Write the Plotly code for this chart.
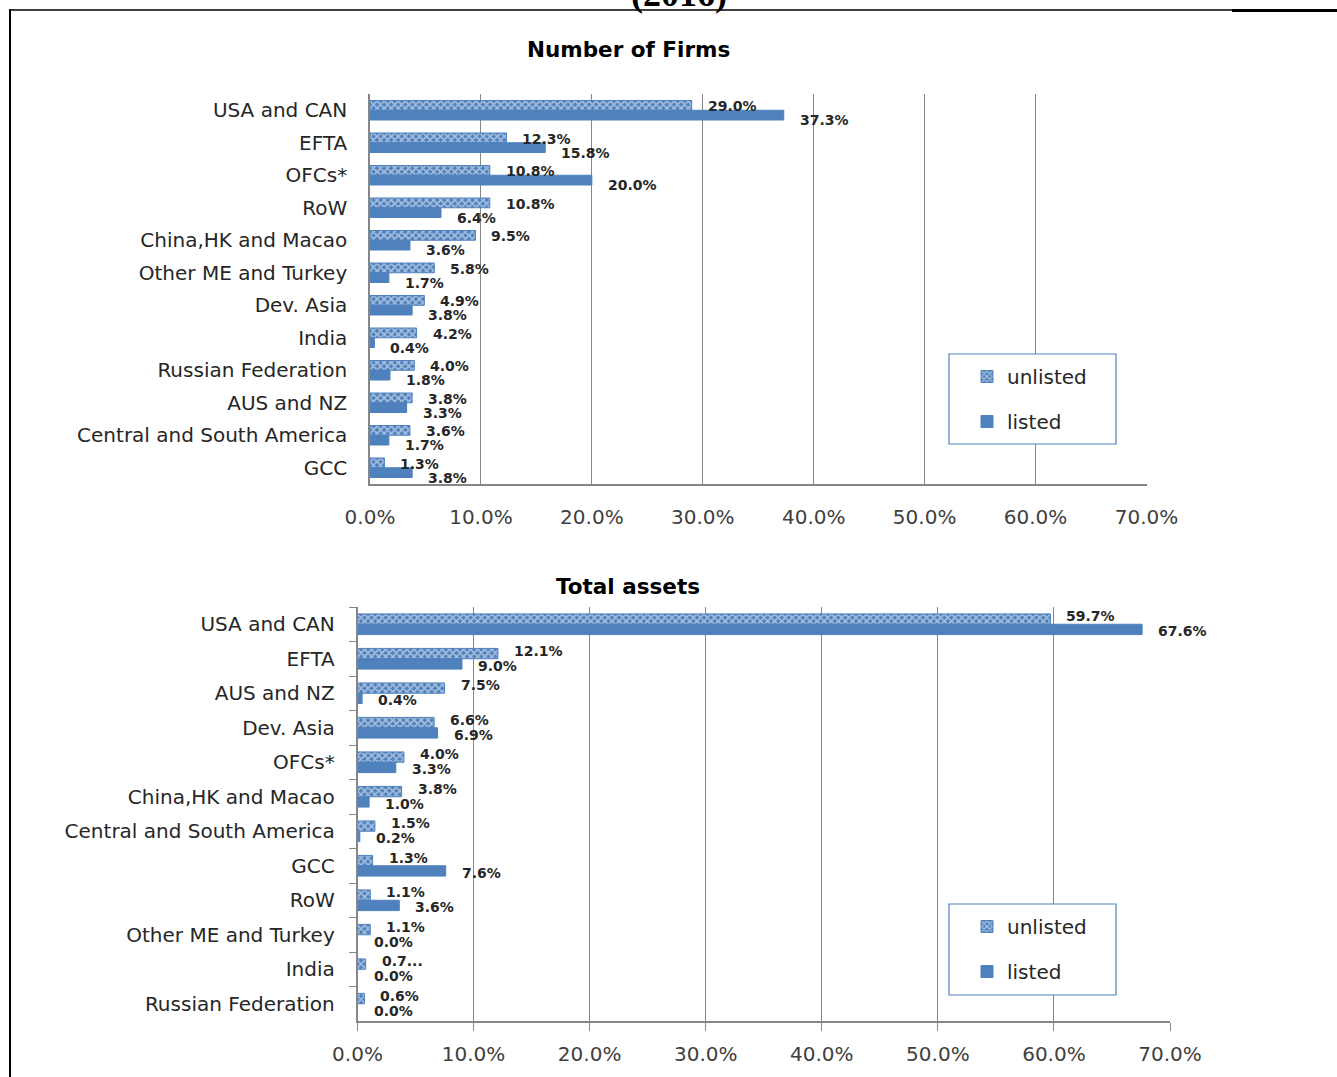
import plotly.graph_objects as go

# ---- data -------------------------------------------------------------
firm_regions = ["USA and CAN", "EFTA", "OFCs*", "RoW", "China,HK and Macao",
                "Other ME and Turkey", "Dev. Asia", "India", "Russian Federation",
                "AUS and NZ", "Central and South America", "GCC"]
firms_unlisted = [29.0, 12.3, 10.8, 10.8, 9.5, 5.8, 4.9, 4.2, 4.0, 3.8, 3.6, 1.3]
firms_listed = [37.3, 15.8, 20.0, 6.4, 3.6, 1.7, 3.8, 0.4, 1.8, 3.3, 1.7, 3.8]

asset_regions = ["USA and CAN", "EFTA", "AUS and NZ", "Dev. Asia", "OFCs*",
                 "China,HK and Macao", "Central and South America", "GCC", "RoW",
                 "Other ME and Turkey", "India", "Russian Federation"]
assets_unlisted = [59.7, 12.1, 7.5, 6.6, 4.0, 3.8, 1.5, 1.3, 1.1, 1.1, 0.7, 0.6]
assets_listed = [67.6, 9.0, 0.4, 6.9, 3.3, 1.0, 0.2, 7.6, 3.6, 0.0, 0.0, 0.0]

x_ticks = [0, 10, 20, 30, 40, 50, 60, 70]
x_ticktext = [f"{t:.1f}%" for t in x_ticks]

# ---- styling ----------------------------------------------------------
W, H = 1337, 1077
BLUE = "#4F81BD"
GRID = "#868686"
TXT = "#262626"
FONT = "DejaVu Sans"


def px_x(p):
    return p / W


def px_y(p):
    return 1 - p / H


def fmt(v):
    return f"{v:.1f}%"


fig = go.Figure()


def add_pair(cats, unl, lst, xa, ya, legend):
    fig.add_trace(go.Bar(
        name="unlisted", y=cats, x=unl, orientation="h",
        xaxis=xa, yaxis=ya, legend=legend, legendgroup="u" + legend,
        marker=dict(color=BLUE, line=dict(color=BLUE, width=1),
                    pattern=dict(shape="x", fgcolor="white", bgcolor=BLUE,
                                 size=5, solidity=0.55)),
    ))
    fig.add_trace(go.Bar(
        name="listed", y=cats, x=lst, orientation="h",
        xaxis=xa, yaxis=ya, legend=legend, legendgroup="l" + legend,
        marker=dict(color=BLUE, line=dict(color=BLUE, width=1)),
    ))


add_pair(firm_regions, firms_unlisted, firms_listed, "x", "y", "legend")
add_pair(asset_regions, assets_unlisted, assets_listed, "x2", "y2", "legend2")

# value labels next to each bar end
annotations = []


def add_labels(cats, vals, xref, yref, yshift, overrides=None):
    overrides = overrides or {}
    for i, (c, v) in enumerate(zip(cats, vals)):
        annotations.append(dict(
            x=v, y=c, xref=xref, yref=yref, text=overrides.get(i, fmt(v)),
            showarrow=False, xanchor="left", yanchor="middle",
            xshift=14, yshift=yshift,
            font=dict(family=FONT, size=14, color=TXT, weight="bold"),
        ))


add_labels(firm_regions, firms_unlisted, "x", "y", 4)
add_labels(firm_regions, firms_listed, "x", "y", -10)
add_labels(asset_regions, assets_unlisted, "x2", "y2", 8,
           overrides={asset_regions.index("India"): "0.7..."})
add_labels(asset_regions, assets_listed, "x2", "y2", -7)

# chart titles
for txt, ypx in [("Number of Firms", 49), ("Total assets", 586)]:
    annotations.append(dict(
        x=px_x(628), y=px_y(ypx), xref="paper", yref="paper", text=txt,
        showarrow=False, xanchor="center", yanchor="middle",
        font=dict(family=FONT, size=21.5, color="black", weight="bold"),
    ))

# page heading partly above the frame
annotations.append(dict(
    x=px_x(679), y=px_y(-6), xref="paper", yref="paper", text="(2016)",
    showarrow=False, xanchor="center", yanchor="middle",
    font=dict(family="Liberation Serif", size=36, color="black", weight="bold"),
))

shapes = [
    # frame
    dict(type="line", xref="paper", yref="paper", x0=px_x(9), x1=px_x(1232),
         y0=px_y(10), y1=px_y(10), line=dict(color="black", width=1.5)),
    dict(type="line", xref="paper", yref="paper", x0=px_x(1232), x1=1,
         y0=px_y(10.5), y1=px_y(10.5), line=dict(color="black", width=3)),
    dict(type="line", xref="paper", yref="paper", x0=px_x(10), x1=px_x(10),
         y0=px_y(9), y1=0, line=dict(color="black", width=2)),
    # legend boxes
    dict(type="rect", xref="paper", yref="paper", layer="above",
         x0=px_x(949), x1=px_x(1116), y0=px_y(444), y1=px_y(354),
         fillcolor="white", line=dict(color=BLUE, width=1.2)),
    dict(type="rect", xref="paper", yref="paper", layer="above",
         x0=px_x(949), x1=px_x(1116), y0=px_y(995), y1=px_y(904),
         fillcolor="white", line=dict(color=BLUE, width=1.2)),
]

xaxis_common = dict(
    range=[0, 70], tickvals=x_ticks, ticktext=x_ticktext,
    showgrid=True, gridcolor=GRID, gridwidth=1, zeroline=False,
    showline=True, linecolor=GRID, linewidth=1.5,
    tickfont=dict(family=FONT, size=20, color="#404040"),
    fixedrange=True, automargin=False,
)
yaxis_common = dict(
    type="category", range=[11.5, -0.5], autorange=False,
    showgrid=False, zeroline=False,
    showline=True, linecolor=GRID, linewidth=1.5,
    tickfont=dict(family=FONT, size=20, color=TXT),
    fixedrange=True, automargin=False,
)

legend_common = dict(
    font=dict(family=FONT, size=20, color=TXT),
    bgcolor="rgba(0,0,0,0)", borderwidth=0,
    traceorder="grouped", tracegroupgap=16,
    xanchor="left", yanchor="top",
)

fig.update_layout(
    width=W, height=H, autosize=False,
    margin=dict(l=0, r=0, t=0, b=0, pad=0, autoexpand=False),
    paper_bgcolor="white", plot_bgcolor="white",
    barmode="group", bargap=0.4, bargroupgap=0.0,
    showlegend=True,
    xaxis=dict(xaxis_common, domain=[px_x(370), px_x(1146.5)], anchor="y",
               ticks="", ticklabelstandoff=14),
    yaxis=dict(yaxis_common, domain=[px_y(484), px_y(94)], anchor="x",
               categoryorder="array", categoryarray=firm_regions,
               ticks="", ticklabelstandoff=17),
    xaxis2=dict(xaxis_common, domain=[px_x(357.5), px_x(1170)], anchor="y2",
                ticks="outside", ticklen=8, tickcolor=GRID, ticklabelstandoff=6),
    yaxis2=dict(yaxis_common, domain=[px_y(1021), px_y(607)], anchor="x2",
                categoryorder="array", categoryarray=asset_regions,
                ticks="outside", ticklen=7, tickcolor=GRID, tickson="boundaries",
                ticklabelstandoff=17),
    legend=dict(legend_common, x=px_x(967), y=px_y(357)),
    legend2=dict(legend_common, x=px_x(967), y=px_y(907)),
    annotations=annotations,
    shapes=shapes,
)

fig.write_html("out.html")
